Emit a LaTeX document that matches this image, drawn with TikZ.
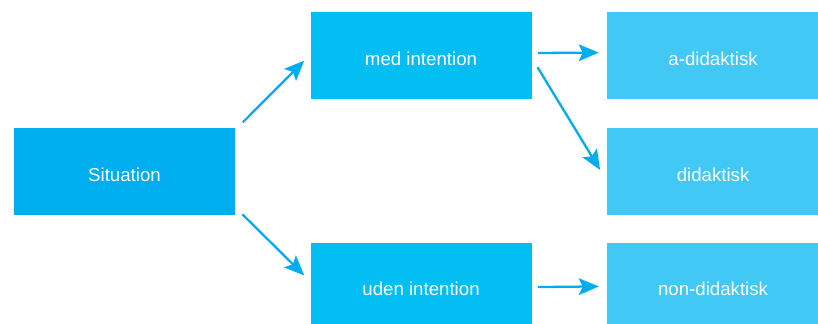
\documentclass[tikz,border=0pt]{standalone}
\usepackage{fontspec}
\setmainfont{Liberation Sans}
\usepackage{tikz}
\usetikzlibrary{arrows.meta,positioning,calc}

\definecolor{sitblue}{RGB}{0,174,239}
\definecolor{midblue}{RGB}{2,190,242}
\definecolor{endblue}{RGB}{66,200,244}
\definecolor{arrowblue}{RGB}{0,174,239}

\begin{document}
\begin{tikzpicture}[
    every node/.style={font=\fontsize{14}{17}\selectfont, text=white, text height=14.3pt, text depth=0pt},
    root/.style={rectangle, fill=sitblue, minimum width=165.75pt, minimum height=65.25pt, text centered, inner sep=0pt},
    branch/.style={rectangle, fill=midblue, minimum width=165.75pt, minimum height=65.25pt, text centered, inner sep=0pt},
    leaf/.style={rectangle, fill=endblue, minimum width=159pt, minimum height=65.25pt, text centered, inner sep=0pt},
    link/.style={draw=arrowblue, line width=1.7pt, -{Stealth[length=15pt, width=12.5pt, inset=3pt]}}
]
    \useasboundingbox (-93.375pt,-114.375pt) rectangle (520.125pt,128.625pt);

    % Start
    \node[root] (sit) at (0,0) {Situation};

    % Intention
    \node[branch, above right=21pt and 56.25pt of sit.north east] (med) {med intention};
    \node[branch, below right=20.25pt and 56.25pt of sit.south east] (uden) {uden intention};

    % Outcomes
    \node[leaf, right=56.25pt of med] (adid) {a-didaktisk};
    \node[leaf, below=21pt of adid] (did) {didaktisk};
    \node[leaf, right=56.25pt of uden] (nondid) {non-didaktisk};

    % Arrows
    \draw[link] ([shift={(5.6pt,4pt)}]sit.north east) -- ([shift={(-4.5pt,-3.5pt)}]med.west);
    \draw[link] ([shift={(5.3pt,0.75pt)}]sit.south east) -- ([shift={(-4.5pt,7.9pt)}]uden.west);
    \draw[link] ([shift={(4.5pt,2.25pt)}]med.east) -- ([shift={(-6pt,2.5pt)}]adid.west);
    \draw[link] ([shift={(4.3pt,-8.5pt)}]med.east) -- ([shift={(-5pt,1.1pt)}]did.west);
    \draw[link] ([shift={(4.5pt,-0.75pt)}]uden.east) -- ([shift={(-6pt,-0.3pt)}]nondid.west);
\end{tikzpicture}
\end{document}
